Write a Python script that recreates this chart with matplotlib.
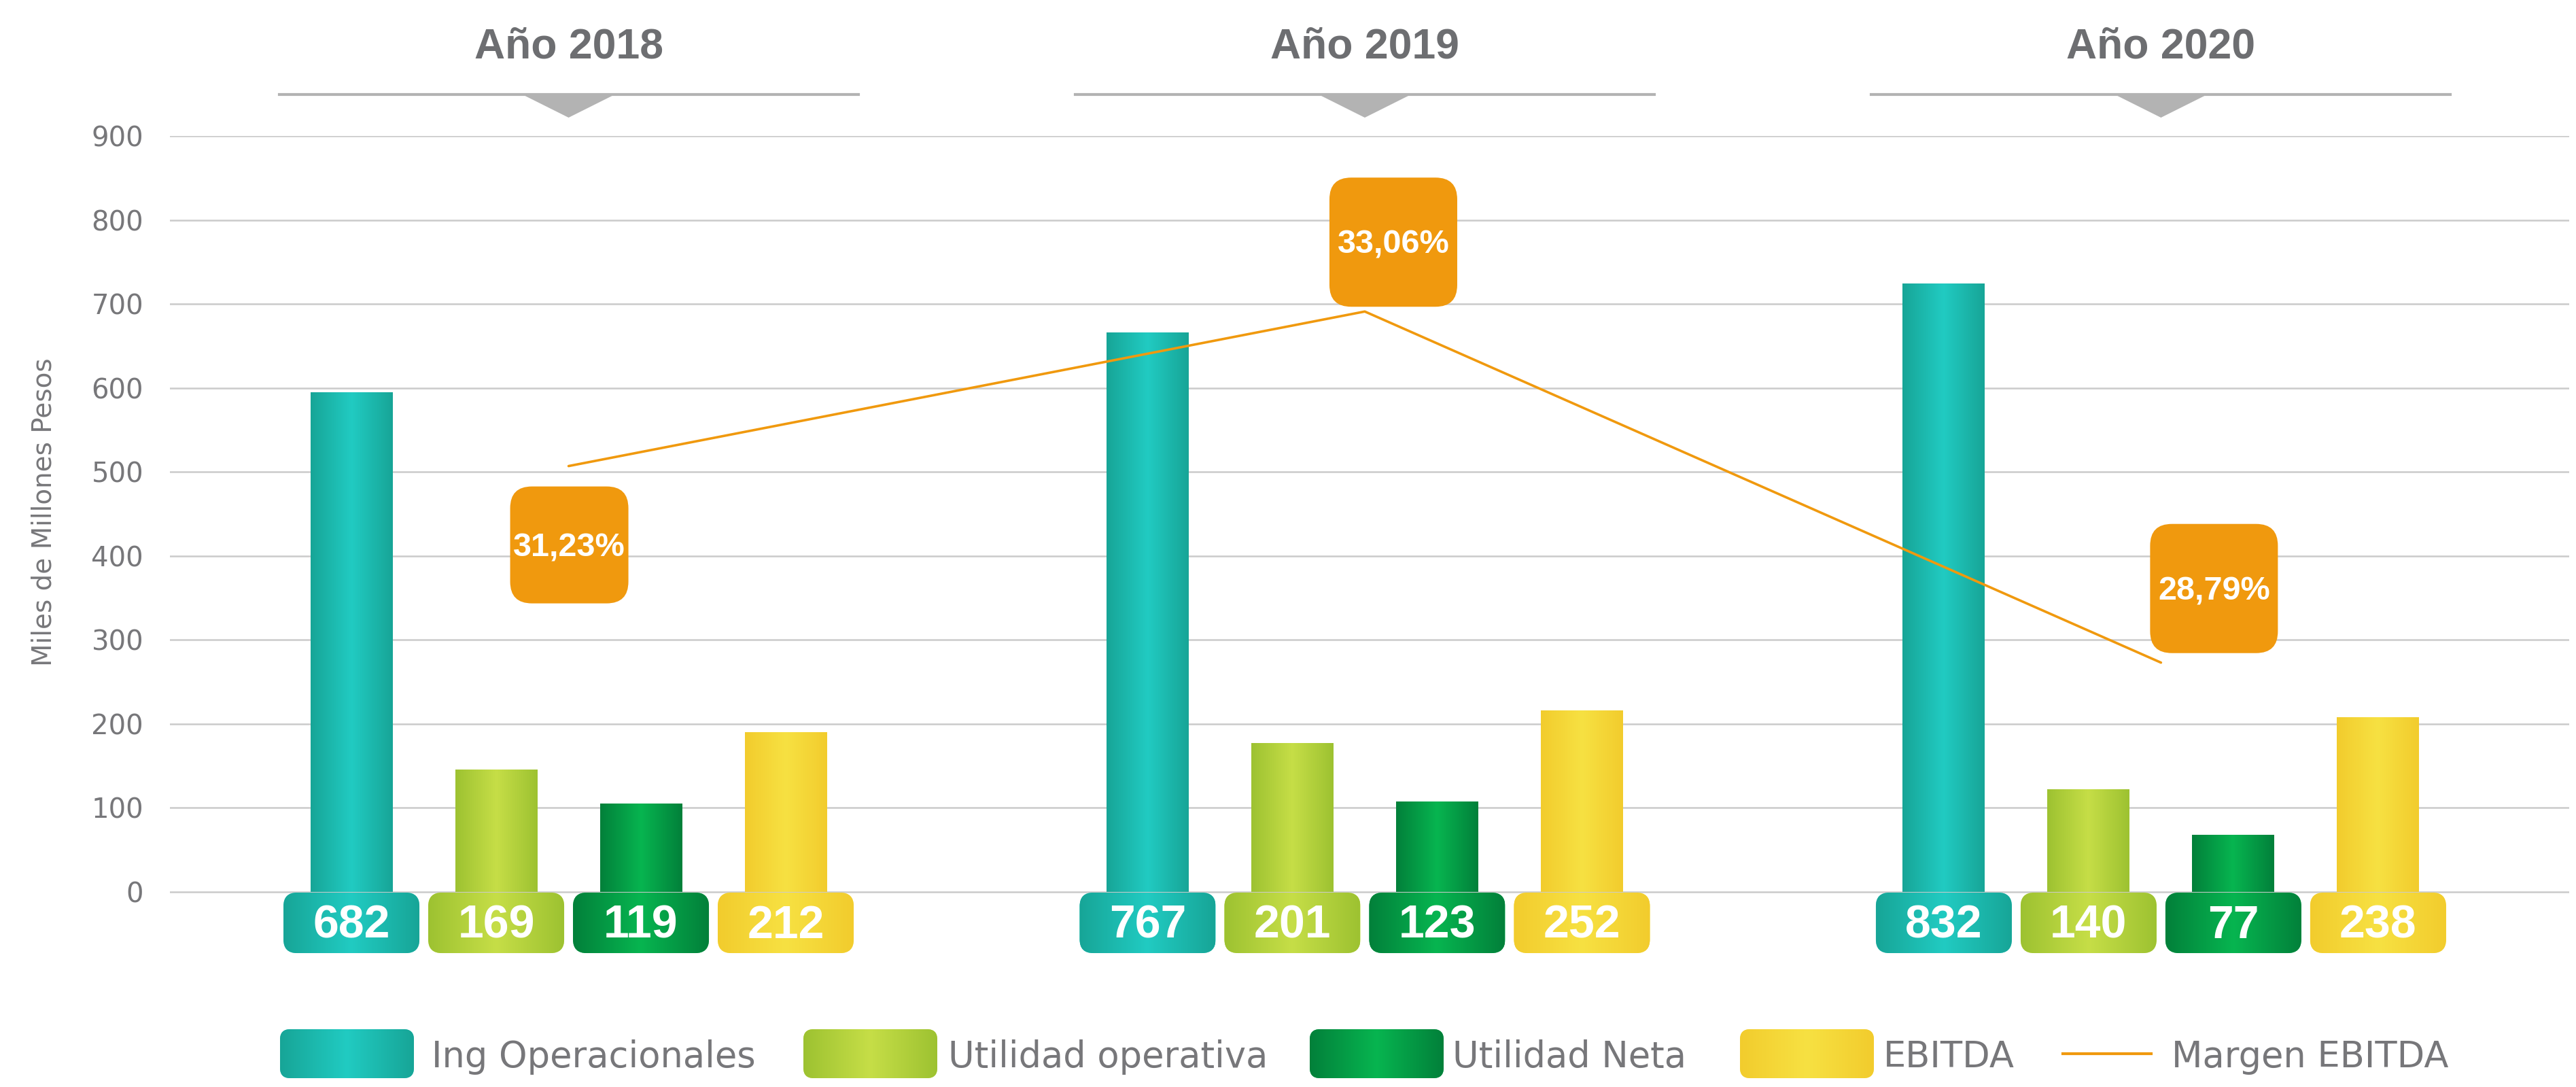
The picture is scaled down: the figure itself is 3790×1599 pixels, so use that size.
import numpy as np
import matplotlib.pyplot as plt
import matplotlib.transforms as mtransforms
from matplotlib.patches import FancyBboxPatch, Polygon
from matplotlib.colors import LinearSegmentedColormap

years = ["Año 2018", "Año 2019", "Año 2020"]
series_names = ["Ing Operacionales", "Utilidad operativa", "Utilidad Neta", "EBITDA"]

# bar heights as drawn against the axis
ing_operacionales = [595, 666, 724]
utilidad_operativa = [146, 177, 122]
utilidad_neta = [105, 108, 68]
ebitda = [190, 216, 208]

# numbers printed in the tags under each bar
ing_operacionales_lbl = [682, 767, 832]
utilidad_operativa_lbl = [169, 201, 140]
utilidad_neta_lbl = [119, 123, 77]
ebitda_lbl = [212, 252, 238]

# margen EBITDA line (axis units) and its tags
margen_ebitda = [507, 691, 273]
margen_ebitda_lbl = ["31,23%", "33,06%", "28,79%"]

W, H, DPI = 3791, 1599, 100
BOLD = ["Liberation Sans", "DejaVu Sans"]
GREY = "#77777a"
ORANGE = "#f0990e"

edge_cols = ["#17a597", "#9dc231", "#02803a", "#f2cc2d"]
mid_cols = ["#21cbc2", "#c6de47", "#07b550", "#f7e142"]

values = [ing_operacionales, utilidad_operativa, utilidad_neta, ebitda]
labels = [ing_operacionales_lbl, utilidad_operativa_lbl, utilidad_neta_lbl, ebitda_lbl]

fig = plt.figure(figsize=(W / DPI, H / DPI), dpi=DPI, facecolor="white")
ax_left, ax_right, ax_top, ax_bot = 250, 3780, 200, 1404.7
ax = fig.add_axes([ax_left / W, 1 - ax_bot / H, (ax_right - ax_left) / W, (ax_bot - ax_top) / H])
xlim = (-1.254, 15.32)
ylim = (-75, 900)
ax.set_xlim(*xlim)
ax.set_ylim(*ylim)

# overlay in figure pixels (y down) for header and legend
ov = fig.add_axes([0, 0, 1, 1])
ov.set_xlim(0, W)
ov.set_ylim(H, 0)
ov.axis("off")
ov.patch.set_visible(False)

pxx = (ax_right - ax_left) / (xlim[1] - xlim[0])
pxy = (ax_bot - ax_top) / (ylim[1] - ylim[0])
asp = pxx / pxy

grad = np.linspace(0, 1, 256).reshape(1, -1)


def fill_gradient(axis, patch, extent, i):
    cmap = LinearSegmentedColormap.from_list("g%d" % i, [edge_cols[i], mid_cols[i], edge_cols[i]])
    im = axis.imshow(grad, extent=extent, cmap=cmap, aspect="auto",
                     interpolation="bicubic", zorder=patch.get_zorder() + 0.1)
    im.set_clip_path(patch)


group_x = np.arange(len(years)) * 5.5
bar_w = 0.568
tag_w = 100 / pxx
tag_h = 89 / pxy

for i in range(len(series_names)):
    xs = group_x + i
    bars = ax.bar(xs, values[i], width=bar_w, color=mid_cols[i], zorder=2)
    for b, x, lbl in zip(bars, xs, labels[i]):
        fill_gradient(ax, b, (x - bar_w / 2, x + bar_w / 2, 0, b.get_height()), i)
        tag = FancyBboxPatch((x - tag_w, -tag_h - 1 / pxy), 2 * tag_w, tag_h,
                             boxstyle="round,pad=0,rounding_size=%f" % (20 / pxx),
                             mutation_aspect=asp, fc=mid_cols[i], ec="none", zorder=3)
        ax.add_patch(tag)
        fill_gradient(ax, tag, (x - tag_w, x + tag_w, -tag_h - 1 / pxy, 0), i)
        ax.text(x, -tag_h / 2 - 5 / pxy, str(lbl), ha="center", va="center", color="white",
                fontsize=49, fontweight="bold", family=BOLD, zorder=5)

line_x = group_x + 1.5
ax.plot(line_x, margen_ebitda, color=ORANGE, lw=2.6, zorder=4, solid_capstyle="round")

box_shift = [(1, 116), (42, -102), (78, -109)]  # px from the line point, y down
box_size = [(174, 172), (188, 190), (188, 190)]
for x, y, lbl, (dx, dy), (bw, bh) in zip(line_x, margen_ebitda, margen_ebitda_lbl, box_shift, box_size):
    cx = x + dx / pxx
    cy = y - dy / pxy
    ax.add_patch(FancyBboxPatch((cx - bw / 2 / pxx, cy - bh / 2 / pxy), bw / pxx, bh / pxy,
                                boxstyle="round,pad=0,rounding_size=%f" % (32 / pxx),
                                mutation_aspect=asp, fc=ORANGE, ec="none", zorder=6))
    ax.text(cx, cy - 4 / pxy, lbl, ha="center", va="center", color="white",
            fontsize=35, fontweight="bold", family=BOLD, zorder=7)

ax.set_yticks(range(0, 901, 100))
ax.set_xticks([])
ax.tick_params(axis="y", length=0, pad=28, labelsize=29, labelcolor=GREY)
ax.yaxis.grid(True, color="#cbcbcb", lw=1.8)
ax.set_axisbelow(True)
for s in ax.spines.values():
    s.set_visible(False)
ax.set_ylabel("Miles de Millones Pesos", fontsize=28, color=GREY)
ax.yaxis.set_label_coords((84 - ax_left) / (ax_right - ax_left), (ax_bot - 753) / (ax_bot - ax_top))

# year headers
hdr = mtransforms.blended_transform_factory(ax.transData, ov.transData)
for c, yr in zip(line_x, years):
    ov.text(c, 85, yr, transform=hdr, ha="center", va="baseline", fontsize=45,
            fontweight="bold", color="#6d6e71", family=BOLD)
    ov.plot([c - 2.0, c + 2.0], [139, 139], transform=hdr, color="#b3b3b3", lw=3)
    ov.add_patch(Polygon([[c - 0.31, 140], [c + 0.31, 140], [c, 173]], closed=True,
                         transform=hdr, fc="#b3b3b3", ec="none"))

# legend
leg_x = [412, 1182, 1927, 2560]
leg_text_x = [635, 1395, 2137, 2771]
for i, name in enumerate(series_names):
    p = FancyBboxPatch((leg_x[i], 1514), 197, 72, boxstyle="round,pad=0,rounding_size=15",
                       fc=mid_cols[i], ec="none", zorder=2)
    ov.add_patch(p)
    fill_gradient(ov, p, (leg_x[i], leg_x[i] + 197, 1586, 1514), i)
    ov.text(leg_text_x[i], 1570, name, va="baseline", fontsize=38, color=GREY)
ov.plot([3035, 3165], [1550, 1550], color=ORANGE, lw=3)
ov.text(3195, 1570, "Margen EBITDA", va="baseline", fontsize=38, color=GREY)

fig.savefig("out.png", dpi=DPI, facecolor="white")
